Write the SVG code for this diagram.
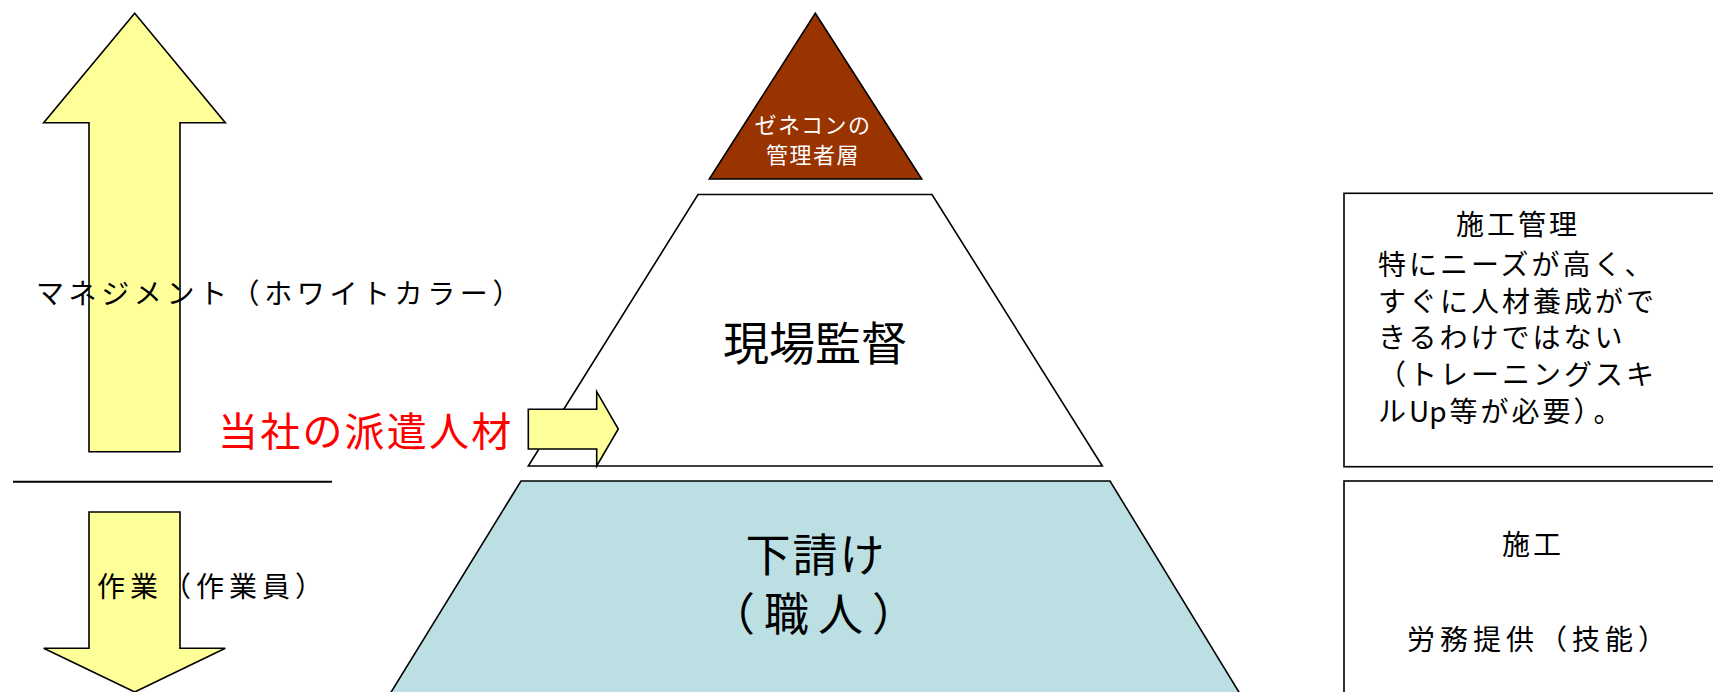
<svg xmlns="http://www.w3.org/2000/svg" width="1713" height="692" viewBox="0 0 1713 692">
<style>
text{font-family:"Noto Sans CJK JP","Noto Sans",sans-serif;fill:#000}
.sh{stroke:#000;stroke-width:1.6;stroke-linejoin:miter}
.yel{fill:#FFFF99}
.c{text-anchor:middle}
.s{font-size:28px;letter-spacing:3px}
</style>
<rect width="1713" height="692" fill="#fff"/>
<g id="arrow-up">
<polygon class="sh yel" points="134.7,13.3 225.3,122.7 180,122.7 180,451.7 89,451.7 89,122.7 43.7,122.7"/>
</g>
<g id="arrow-down">
<polygon class="sh yel" points="89,512 180,512 180,648.3 225.3,648.3 134.7,692 43.7,648.3 89,648.3"/>
</g>
<g id="divider">
<line x1="13" y1="481.7" x2="332" y2="481.7" stroke="#000" stroke-width="2"/>
</g>
<g id="label-management">
<text class="s" x="36" y="304" style="letter-spacing:4.6px">マネジメント（ホワイトカラー）</text>
</g>
<g id="label-work">
<text class="s" x="97" y="597" style="letter-spacing:5px">作業（作業員）</text>
</g>
<g id="top-tier">
<polygon class="sh" fill="#993300" points="815.3,13.3 921.7,179 709.3,179"/>
<text class="c" x="813" y="133" font-size="22" letter-spacing="1.5" style="fill:#fff">ゼネコンの</text>
<text class="c" x="813" y="163" font-size="22" letter-spacing="1.5" style="fill:#fff">管理者層</text>
</g>
<g id="middle-tier">
<polygon class="sh" fill="#fff" points="698,194.5 932,194.5 1102.3,466 528.3,466"/>
<text class="c" x="815" y="360" font-size="46">現場監督</text>
</g>
<g id="bottom-tier">
<polygon class="sh" fill="#BBDFE3" points="521,481 1110,481 1245,702 385,702"/>
<text class="c" x="816" y="572" font-size="45" letter-spacing="2">下請け</text>
<text class="c" x="818" y="631" font-size="45" letter-spacing="9">（職人）</text>
</g>
<g id="dispatch-label">
<text x="218" y="446" font-size="40" letter-spacing="2.2" style="fill:#FF0000">当社の派遣人材</text>
</g>
<g id="connectors">
<polygon class="sh yel" points="528.3,409.3 596.7,409.3 596.7,391.7 618.3,429 596.7,466 596.7,449 528.3,449"/>
</g>
<g id="box-management">
<rect class="sh" fill="#fff" x="1344" y="193.3" width="380" height="273.4"/>
<text class="c s" x="1518" y="235">施工管理</text>
<text class="s" x="1378" y="275">特にニーズが高く、</text>
<text class="s" x="1378" y="311.5">すぐに人材養成がで</text>
<text class="s" x="1378" y="348">きるわけではない</text>
<text class="s" x="1378" y="385">（トレーニングスキ</text>
<text class="s" x="1378" y="421.5">ル<tspan letter-spacing="0">U</tspan>p等が必要）<tspan dx="3">。</tspan></text>
</g>
<g id="box-construction">
<rect class="sh" fill="#fff" x="1344" y="481" width="380" height="230"/>
<text class="c s" x="1533" y="555">施工</text>
<text class="c s" x="1539" y="650" style="letter-spacing:5px">労務提供（技能）</text>
</g>
</svg>
